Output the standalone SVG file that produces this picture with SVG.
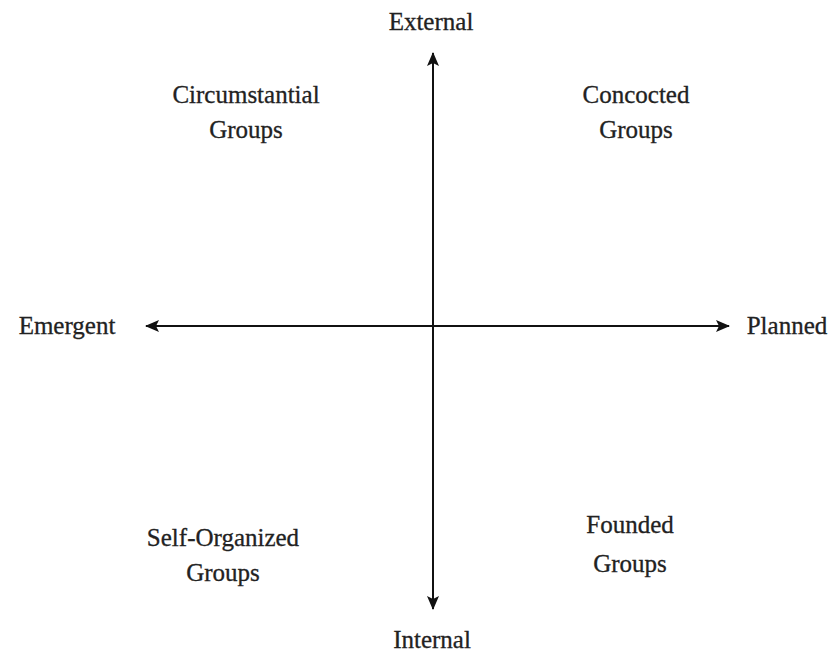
<svg xmlns="http://www.w3.org/2000/svg" width="830" height="656" viewBox="0 0 830 656">
<style>
text{font-family:"Liberation Serif","Times New Roman",serif;font-size:25px;fill:#222;stroke:#222;stroke-width:0.3;text-anchor:middle}
.ax{stroke:#111;stroke-width:2;fill:none}
</style>
<defs>
<marker id="ah" viewBox="0 0 14 12" refX="13" refY="6" markerWidth="14" markerHeight="12" markerUnits="userSpaceOnUse" orient="auto">
<path d="M0,0 L14,6 L0,12 L3,6 Z" fill="#111"/>
</marker>
</defs>
<rect width="830" height="656" fill="#fff"/>
<g id="connectors">
<line class="ax" x1="433" y1="326" x2="433" y2="53" marker-end="url(#ah)"/>
<line class="ax" x1="433" y1="326" x2="433" y2="609" marker-end="url(#ah)"/>
<line class="ax" x1="433" y1="326" x2="146" y2="326" marker-end="url(#ah)"/>
<line class="ax" x1="433" y1="326" x2="729" y2="326" marker-end="url(#ah)"/>
</g>
<g id="external"><text x="431" y="30">External</text></g>
<g id="internal"><text x="432" y="648">Internal</text></g>
<g id="emergent"><text x="67" y="334">Emergent</text></g>
<g id="planned"><text x="787" y="334">Planned</text></g>
<g id="circumstantial"><text x="246" y="103">Circumstantial</text><text x="246" y="138">Groups</text></g>
<g id="concocted"><text x="636" y="103">Concocted</text><text x="636" y="138">Groups</text></g>
<g id="selforganized"><text x="223" y="546">Self-Organized</text><text x="223" y="581">Groups</text></g>
<g id="founded"><text x="630" y="533">Founded</text><text x="630" y="572">Groups</text></g>
</svg>
